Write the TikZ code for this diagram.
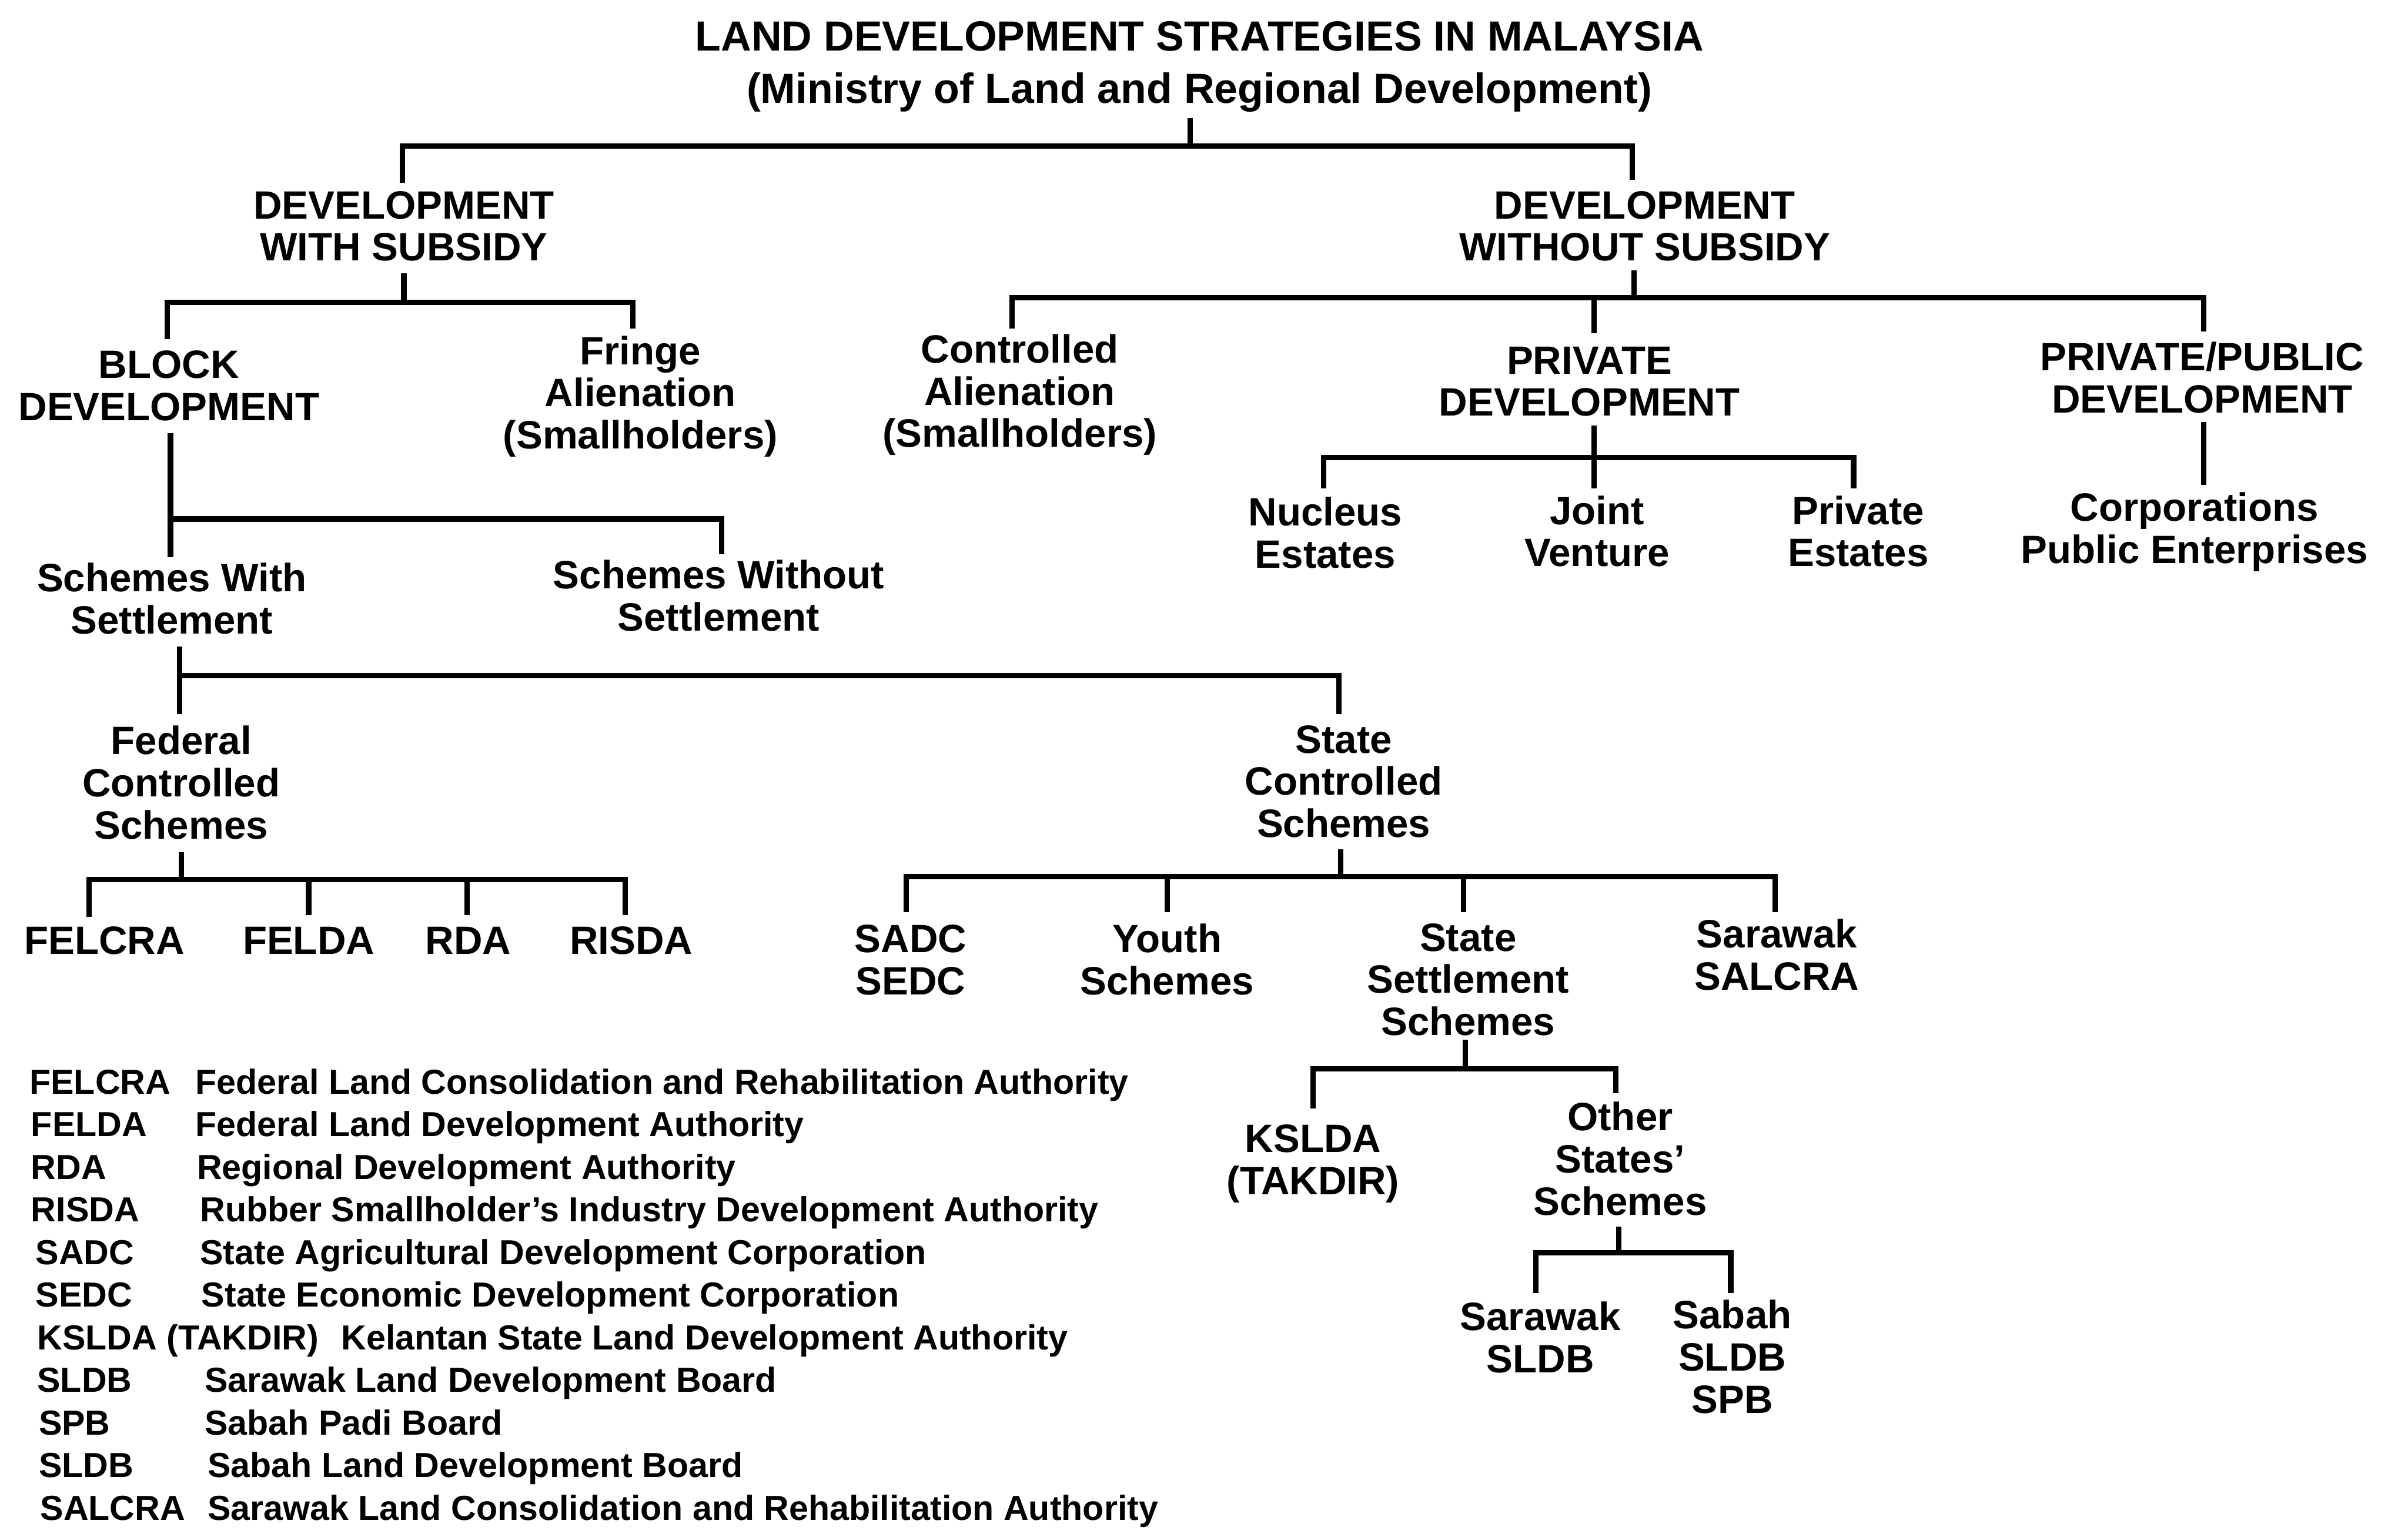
\documentclass[tikz,border=0pt]{standalone}
\usepackage{fontspec}
\setmainfont{Liberation Sans}
\newcommand{\firstrule}{\rule{0pt}{0.8em}}
\begin{document}
\begin{tikzpicture}[x=0.025cm,y=-0.025cm,
  lbl/.style={anchor=north,align=center,inner sep=0pt,font=\fontsize{18.3}{19.5}\selectfont\bfseries},
  ttl/.style={anchor=north,align=center,inner sep=0pt,font=\fontsize{19.5}{24.2}\selectfont\bfseries},
  abbr/.style={anchor=base west,inner sep=0pt,font=\fontsize{16.1}{19}\selectfont\bfseries},
  conn/.style={line width=2.5pt,line join=miter}]
\fill[white] (0,0) rectangle (1568,999);
\useasboundingbox (0,0) rectangle (1568,999);

% ---------- nodes ----------
\node[ttl] (title) at (781,10.9) {\firstrule LAND DEVELOPMENT STRATEGIES IN MALAYSIA\\(Ministry of Land and Regional Development)};
\node[lbl] (wsub) at (263,121.6) {\firstrule DEVELOPMENT\\WITH SUBSIDY};
\node[lbl] (wosub) at (1071,121.6) {\firstrule DEVELOPMENT\\WITHOUT SUBSIDY};
\node[lbl] (block) at (110,225.6) {\firstrule BLOCK\\DEVELOPMENT};
\node[lbl] (fringe) at (417,216.6) {\firstrule Fringe\\Alienation\\(Smallholders)};
\node[lbl] (ctrl) at (664,215.6) {\firstrule Controlled\\Alienation\\(Smallholders)};
\node[lbl] (priv) at (1035,222.6) {\firstrule PRIVATE\\DEVELOPMENT};
\node[lbl] (pp) at (1434,220.6) {\firstrule PRIVATE/PUBLIC\\DEVELOPMENT};
\node[lbl] (nuc) at (863,321.6) {\firstrule Nucleus\\Estates};
\node[lbl] (joint) at (1040,320.6) {\firstrule Joint\\Venture};
\node[lbl] (pest) at (1210,320.6) {\firstrule Private\\Estates};
\node[lbl] (corp) at (1429,318.6) {\firstrule Corporations\\Public Enterprises};
\node[lbl] (sws) at (112,364.6) {\firstrule Schemes With\\Settlement};
\node[lbl] (swos) at (468,362.6) {\firstrule Schemes Without\\Settlement};
\node[lbl] (fcs) at (118,470.6) {\firstrule Federal\\Controlled\\Schemes};
\node[lbl] (scs) at (875,469.6) {\firstrule State\\Controlled\\Schemes};
\node[lbl] (felcra) at (68,600.6) {\firstrule FELCRA};
\node[lbl] (felda) at (201,600.6) {\firstrule FELDA};
\node[lbl] (rda) at (305,600.6) {\firstrule RDA};
\node[lbl] (risda) at (411,600.6) {\firstrule RISDA};
\node[lbl] (sadc) at (593,599.6) {\firstrule SADC\\SEDC};
\node[lbl] (youth) at (760,599.6) {\firstrule Youth\\Schemes};
\node[lbl] (sss) at (956,598.6) {\firstrule State\\Settlement\\Schemes};
\node[lbl] (salcra) at (1157,596.6) {\firstrule Sarawak\\SALCRA};
\node[lbl] (kslda) at (855,729.6) {\firstrule KSLDA\\(TAKDIR)};
\node[lbl] (other) at (1055,715.6) {\firstrule Other\\States'\\Schemes};
\node[lbl] (swk) at (1003,845.6) {\firstrule Sarawak\\SLDB};
\node[lbl] (sabah) at (1128,844.6) {\firstrule Sabah\\SLDB\\SPB};

% ---------- legend ----------
\node[abbr] (l0a) at (19,712.5) {FELCRA};
\node[abbr] (l0b) at (127,712.5) {Federal Land Consolidation and Rehabilitation Authority};
\node[abbr] (l1a) at (20,740.25) {FELDA};
\node[abbr] (l1b) at (127,740.25) {Federal Land Development Authority};
\node[abbr] (l2a) at (20,768) {RDA};
\node[abbr] (l2b) at (128,768) {Regional Development Authority};
\node[abbr] (l3a) at (20,795.75) {RISDA};
\node[abbr] (l3b) at (130,795.75) {Rubber Smallholder's Industry Development Authority};
\node[abbr] (l4a) at (23,823.5) {SADC};
\node[abbr] (l4b) at (130,823.5) {State Agricultural Development Corporation};
\node[abbr] (l5a) at (23,851.25) {SEDC};
\node[abbr] (l5b) at (131,851.25) {State Economic Development Corporation};
\node[abbr] (l6a) at (24,879) {KSLDA (TAKDIR)};
\node[abbr] (l6b) at (222,879) {Kelantan State Land Development Authority};
\node[abbr] (l7a) at (24,906.75) {SLDB};
\node[abbr] (l7b) at (133,906.75) {Sarawak Land Development Board};
\node[abbr] (l8a) at (25,934.5) {SPB};
\node[abbr] (l8b) at (133,934.5) {Sabah Padi Board};
\node[abbr] (l9a) at (25,962.25) {SLDB};
\node[abbr] (l9b) at (135,962.25) {Sabah Land Development Board};
\node[abbr] (l10a) at (26,990) {SALCRA};
\node[abbr] (l10b) at (135,990) {Sarawak Land Consolidation and Rehabilitation Authority};

% ---------- connectors ----------
% title
\coordinate (a0) at (775,77); \coordinate (a1) at (775,95);
\coordinate (a2) at (262,119); \coordinate (a3) at (1063,117);
\draw[conn] (a0) -- (a1);
\draw[conn] (a2) |- (a1) -| (a3);
% with subsidy
\coordinate (b0) at (263,178); \coordinate (b1) at (263,197);
\coordinate (b2) at (109,221); \coordinate (b3) at (412,214);
\draw[conn] (b0) -- (b1);
\draw[conn] (b2) |- (b1) -| (b3);
% block development
\coordinate (c0) at (111,282); \coordinate (c1) at (111,338);
\coordinate (c2) at (111,363); \coordinate (c3) at (470,361);
\draw[conn] (c0) -- (c2);
\draw[conn] (c1) -| (c3);
% without subsidy
\coordinate (d0) at (1064,176); \coordinate (d1) at (1064,194);
\coordinate (d2) at (659,214); \coordinate (d3) at (1038,217); \coordinate (d4) at (1435,216);
\draw[conn] (d0) -- (d1);
\draw[conn] (d2) |- (d1) -| (d4);
\draw[conn] (d3) -- (d3 |- d1);
% private development
\coordinate (e0) at (1038,277); \coordinate (e1) at (1038,298);
\coordinate (e2) at (862,318); \coordinate (e3) at (1038,318); \coordinate (e4) at (1207,318);
\draw[conn] (e0) -- (e3);
\draw[conn] (e2) |- (e1) -| (e4);
% private/public
\coordinate (f0) at (1435,275); \coordinate (f1) at (1435,316);
\draw[conn] (f0) -- (f1);
% schemes with settlement
\coordinate (g0) at (117,421); \coordinate (g1) at (117,440);
\coordinate (g2) at (117,465); \coordinate (g3) at (872,465);
\draw[conn] (g0) -- (g2);
\draw[conn] (g1) -| (g3);
% federal controlled
\coordinate (h0) at (118,555); \coordinate (h1) at (118,573);
\coordinate (h2) at (58,597); \coordinate (h3) at (201,596);
\coordinate (h4) at (304,596); \coordinate (h5) at (407,596);
\draw[conn] (h0) -- (h1);
\draw[conn] (h2) |- (h1) -| (h5);
\draw[conn] (h3) -- (h3 |- h1);
\draw[conn] (h4) -- (h4 |- h1);
% state controlled
\coordinate (i0) at (873,553); \coordinate (i1) at (873,571);
\coordinate (i2) at (590,594); \coordinate (i3) at (760,594);
\coordinate (i4) at (953,594); \coordinate (i5) at (1156,594);
\draw[conn] (i0) -- (i1);
\draw[conn] (i2) |- (i1) -| (i5);
\draw[conn] (i3) -- (i3 |- i1);
\draw[conn] (i4) -- (i4 |- i1);
% state settlement
\coordinate (j0) at (954,677); \coordinate (j1) at (954,696);
\coordinate (j2) at (855,722); \coordinate (j3) at (1052,712);
\draw[conn] (j0) -- (j1);
\draw[conn] (j2) |- (j1) -| (j3);
% other states
\coordinate (k0) at (1054,799); \coordinate (k1) at (1054,816);
\coordinate (k2) at (1000,842); \coordinate (k3) at (1127,842);
\draw[conn] (k0) -- (k1);
\draw[conn] (k2) |- (k1) -| (k3);
\end{tikzpicture}
\end{document}
